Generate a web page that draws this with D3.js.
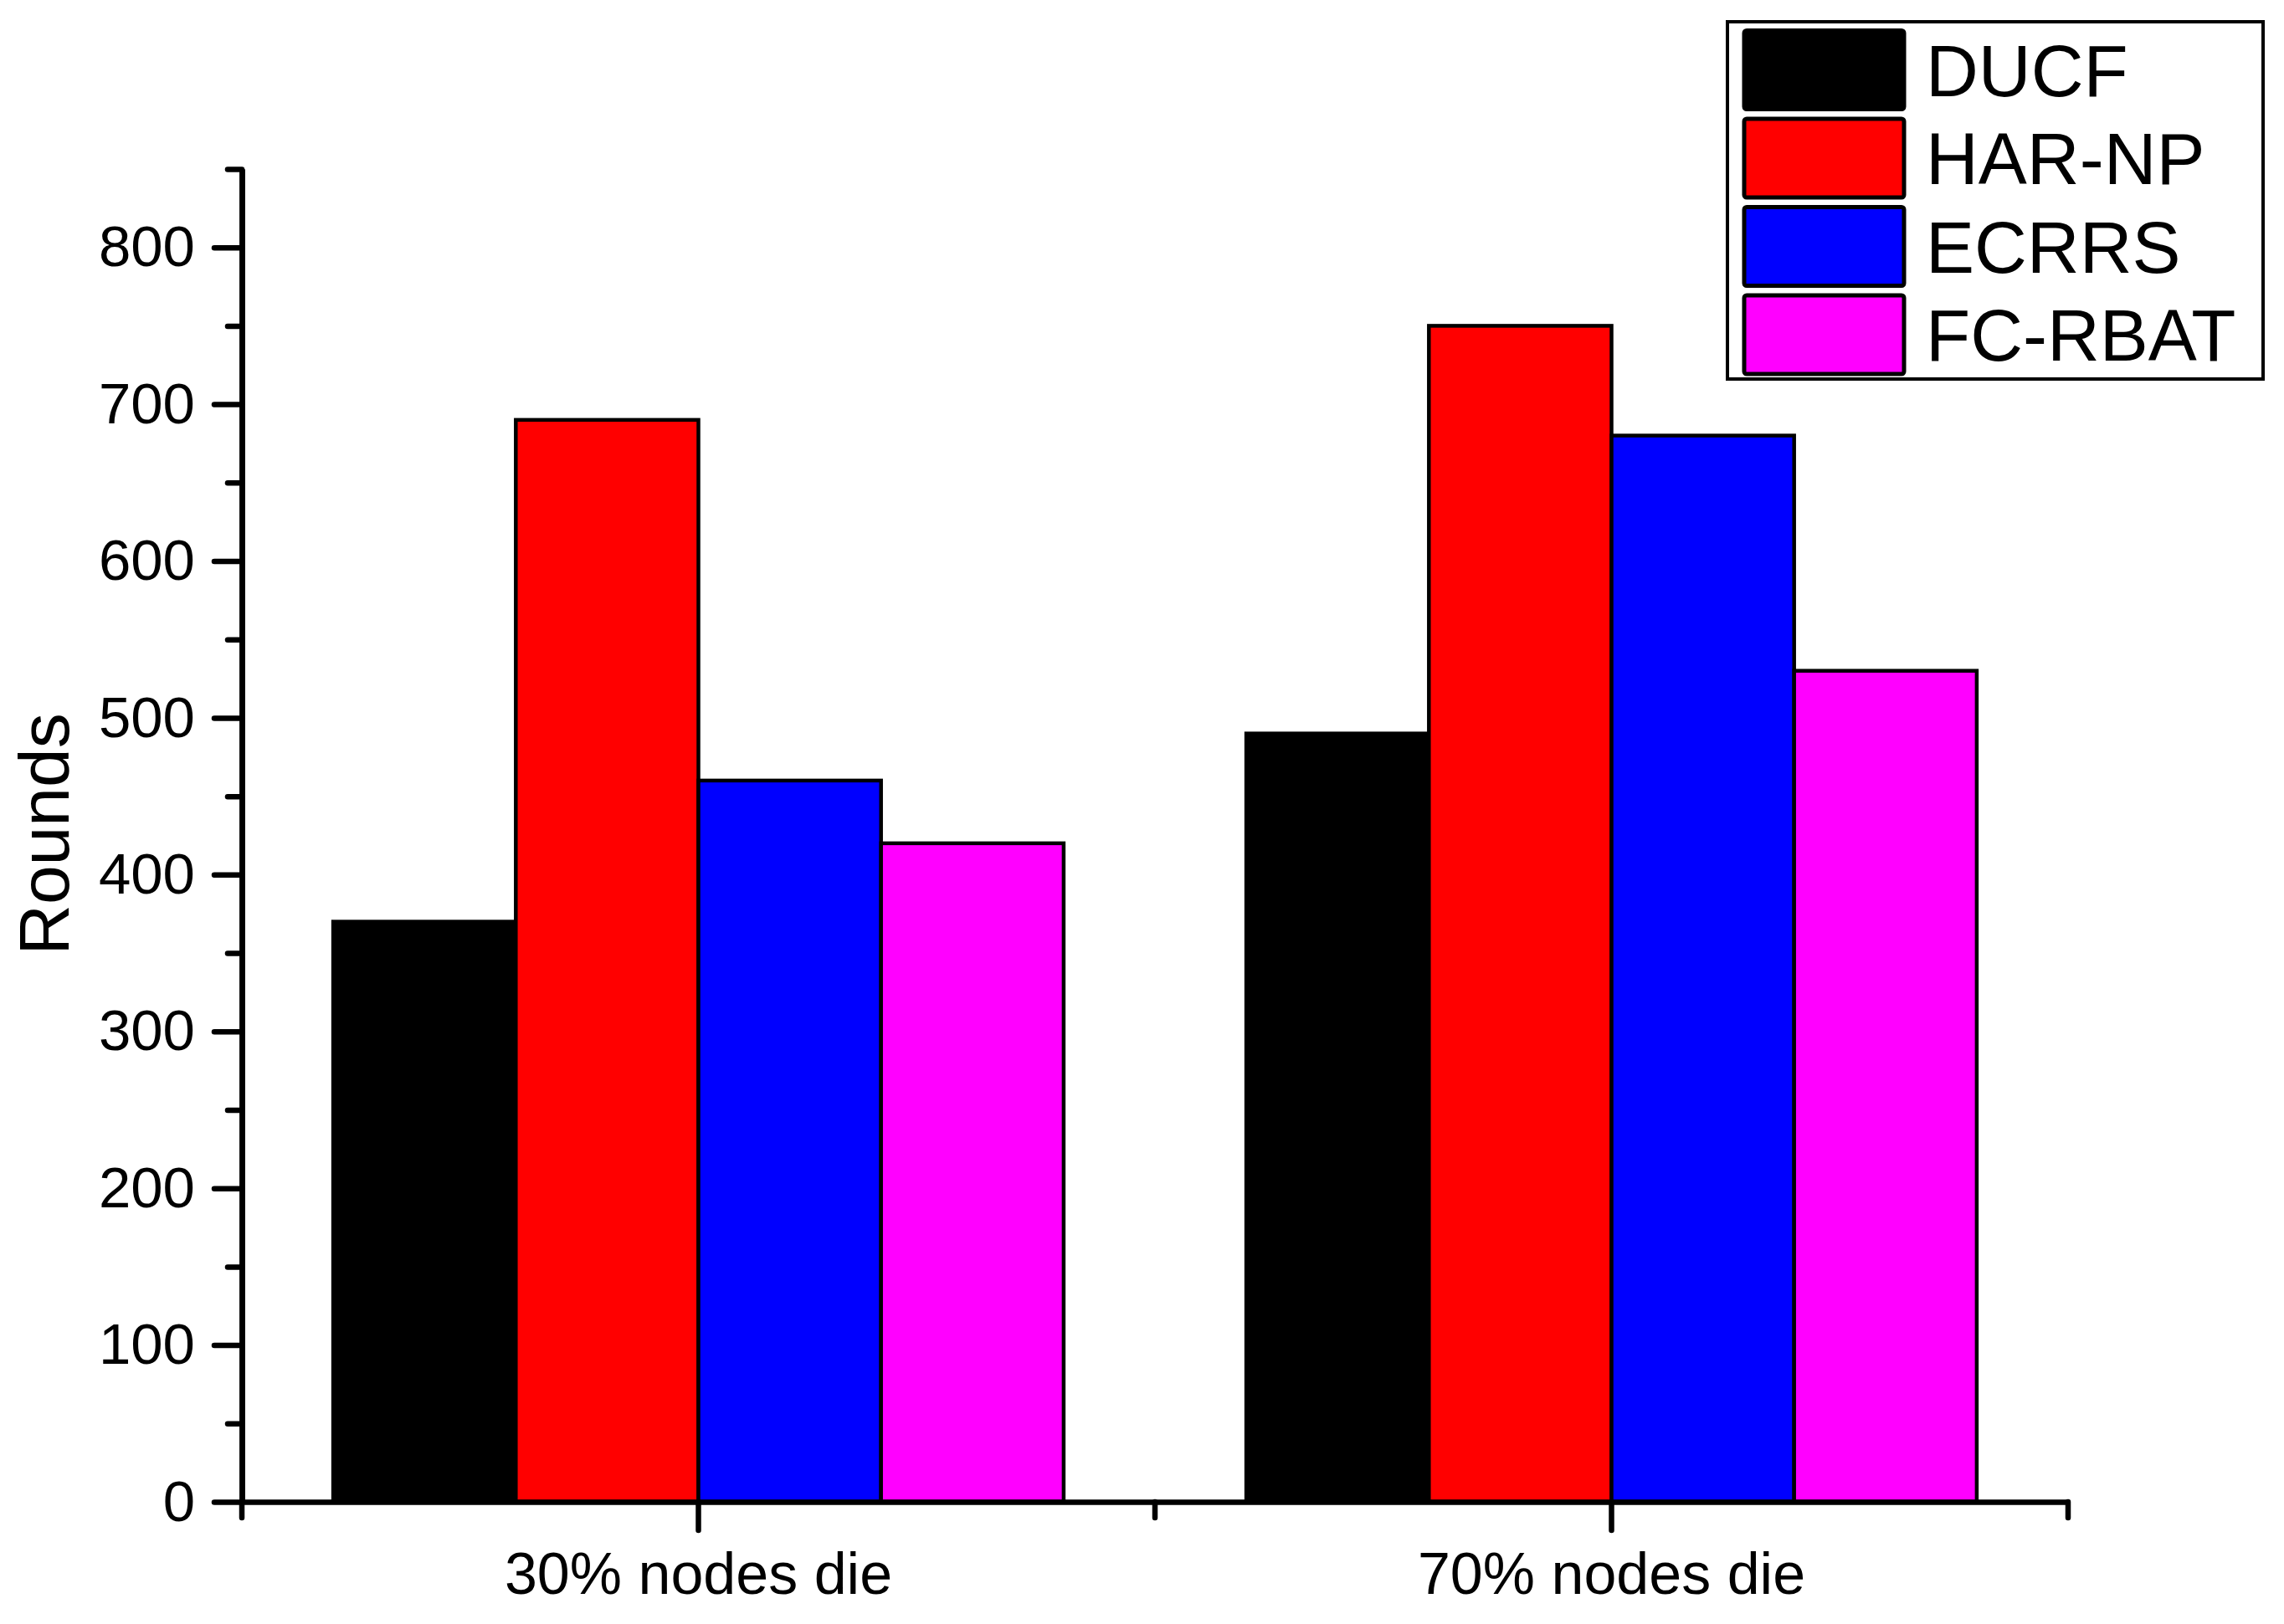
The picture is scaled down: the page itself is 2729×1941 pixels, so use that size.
<!DOCTYPE html>
<html>
<head>
<meta charset="utf-8">
<script src="https://cdn.jsdelivr.net/npm/d3@7"></script>
<style>
  html, body { margin: 0; padding: 0; background: #fff; }
  svg { display: block; font-family: "Liberation Sans", Arial, sans-serif; }
</style>
</head>
<body>
<svg id="chart" width="2729" height="1941"></svg>
<script>
// ---- data ----
const categories = ["30% nodes die", "70% nodes die"];
const seriesNames = ["DUCF", "HAR-NP", "ECRRS", "FC-RBAT"];
const seriesColors = ["#000000", "#ff0000", "#0000ff", "#ff00ff"];
const DUCF   = [370, 490];
const HARNP  = [690, 750];
const ECRRS  = [460, 680];
const FCRBAT = [420, 530];
const seriesValues = [DUCF, HARNP, ECRRS, FCRBAT];
const yMajorTicks = [0, 100, 200, 300, 400, 500, 600, 700, 800];
const yMinorTicks = [50, 150, 250, 350, 450, 550, 650, 750, 850];
const yLabel = "Rounds";

// ---- layout ----
const svg = d3.select("#chart");
const plotL = 289, plotR = 2471, plotT = 202, plotB = 1795;

const x = d3.scaleBand().domain(categories).range([plotL, plotR]).paddingInner(0).paddingOuter(0);
const x1 = d3.scaleBand().domain(seriesNames)
  .range([x.bandwidth() * 0.1, x.bandwidth() * 0.9]).padding(0);
const y = d3.scaleLinear().domain([0, 850]).range([plotB, plotT]);

svg.append("rect").attr("width", 2729).attr("height", 1941).attr("fill", "#fff");

// ---- bars ----
const data = [];
categories.forEach((c, ci) => {
  seriesNames.forEach((s, si) => {
    data.push({ cat: c, series: s, value: seriesValues[si][ci], color: seriesColors[si] });
  });
});
svg.append("g").selectAll("rect").data(data).join("rect")
  .attr("x", d => x(d.cat) + x1(d.series))
  .attr("y", d => y(d.value))
  .attr("width", x1.bandwidth())
  .attr("height", d => y(0) - y(d.value))
  .attr("fill", d => d.color)
  .attr("stroke", "#000")
  .attr("stroke-width", 4.5);

// ---- axes ----
const axisW = 6.5;
const yMajor = d3.axisLeft(y).tickValues(yMajorTicks).tickSize(33).tickSizeOuter(0).tickPadding(23);
const yMinor = d3.axisLeft(y).tickValues(yMinorTicks).tickSize(17).tickSizeOuter(0).tickFormat("");
const gyMinor = svg.append("g").attr("transform", `translate(${plotL},0)`).call(yMinor);
const gy = svg.append("g").attr("transform", `translate(${plotL},0)`).call(yMajor);
[gy, gyMinor].forEach(g => {
  g.select(".domain").attr("stroke", "#000").attr("stroke-width", axisW);
  g.selectAll(".tick line").attr("stroke", "#000").attr("stroke-width", axisW).attr("stroke-linecap", "round");
});
gy.selectAll(".tick text").attr("font-size", 69).attr("fill", "#000")
  .attr("font-family", "'Liberation Sans', Arial, sans-serif");

// x axis: major ticks at category centres, minor at band boundaries
const xMajor = d3.axisBottom(x).tickSize(34).tickSizeOuter(0).tickPadding(26);
const gx = svg.append("g").attr("transform", `translate(0,${plotB})`).call(xMajor);
gx.select(".domain").attr("stroke", "#000").attr("stroke-width", axisW);
gx.selectAll(".tick line").attr("stroke", "#000").attr("stroke-width", axisW).attr("stroke-linecap", "round");
gx.selectAll(".tick text").attr("font-size", 70).attr("fill", "#000")
  .attr("font-family", "'Liberation Sans', Arial, sans-serif");

const boundaries = [x(categories[0])].concat(categories.map(c => x(c) + x.bandwidth()));
svg.append("g").selectAll("line").data(boundaries).join("line")
  .attr("x1", d => d).attr("x2", d => d)
  .attr("y1", plotB).attr("y2", plotB + 19)
  .attr("stroke", "#000").attr("stroke-width", axisW).attr("stroke-linecap", "round");

// y label
svg.append("text")
  .attr("transform", `translate(82,997) rotate(-90)`)
  .attr("text-anchor", "middle")
  .attr("font-size", 84)
  .attr("fill", "#000")
  .text(yLabel);

// ---- legend ----
const lg = svg.append("g");
lg.append("rect").attr("x", 2064).attr("y", 26).attr("width", 2704 - 2064).attr("height", 453 - 26)
  .attr("fill", "#fff").attr("stroke", "#000").attr("stroke-width", 4);
const rowY = d3.scalePoint().domain(seriesNames).range([83.5, 400]);
const items = lg.selectAll("g.item").data(seriesNames).join("g").attr("class", "item");
items.append("rect")
  .attr("x", 2084).attr("y", d => rowY(d) - 47)
  .attr("width", 191).attr("height", 94)
  .attr("rx", 3)
  .attr("fill", (d, i) => seriesColors[i])
  .attr("stroke", "#000").attr("stroke-width", 5);
items.append("text")
  .attr("x", 2301).attr("y", d => rowY(d) + 31)
  .attr("font-size", 87).attr("fill", "#000")
  .text(d => d);
</script>
</body>
</html>
